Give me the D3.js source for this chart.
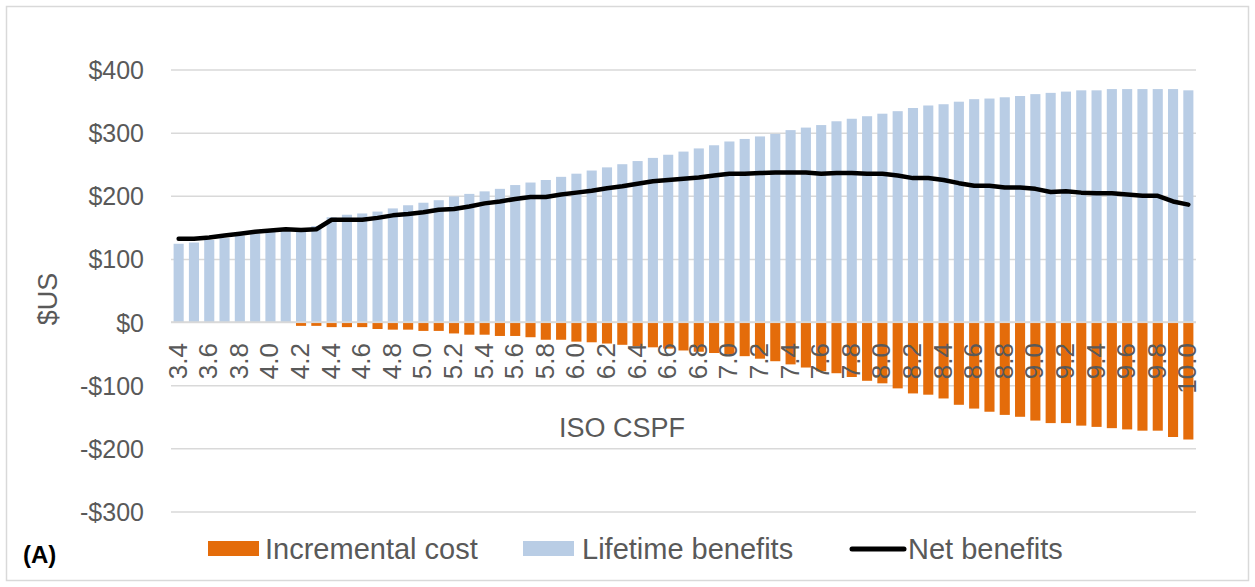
<!DOCTYPE html>
<html>
<head>
<meta charset="utf-8">
<script src="https://cdn.jsdelivr.net/npm/d3@7"></script>
<style>
  html, body { margin: 0; padding: 0; background: #fff; }
  svg { display: block; font-family: "Liberation Sans", Arial, sans-serif; }
</style>
</head>
<body>
<svg id="chart" width="1255" height="587"></svg>
<script>
const categories = ["3.4","3.5","3.6","3.7","3.8","3.9",
  "4.0","4.1","4.2","4.3","4.4","4.5","4.6","4.7","4.8","4.9",
  "5.0","5.1","5.2","5.3","5.4","5.5","5.6","5.7","5.8","5.9",
  "6.0","6.1","6.2","6.3","6.4","6.5","6.6","6.7","6.8","6.9",
  "7.0","7.1","7.2","7.3","7.4","7.5","7.6","7.7","7.8","7.9",
  "8.0","8.1","8.2","8.3","8.4","8.5","8.6","8.7","8.8","8.9",
  "9.0","9.1","9.2","9.3","9.4","9.5","9.6","9.7","9.8","9.9",
  "10.0"];

const lifetimeBenefits = [124,126,130,133,137,140,
  143,146,148,152,166,170,172,175,180,185,
  189,193,199,203,207,211,217,221,225,230,
  235,240,245,250,255,260,265,270,275,280,
  286,290,294,298,304,308,312,318,322,326,
  330,334,339,343,345,349,353,354,356,358,
  361,363,365,367,367,369,369,369,369,369,
  367];

const incrementalCost = [0,0,0,0,0,0,
  0,0,-6,-6,-8,-8,-8,-11,-12,-12,
  -14,-14,-18,-20,-20,-22,-22,-24,-28,-28,
  -31,-32,-34,-36,-38,-40,-42,-45,-47,-49,
  -51,-54,-58,-62,-67,-72,-78,-81,-87,-93,
  -97,-105,-113,-115,-121,-131,-137,-142,-147,-150,
  -156,-160,-160,-164,-166,-168,-170,-172,-172,-182,
  -186];

const netBenefits = [132,132,134,137,140,143,
  145,147,146,147,162,162,162,165,169,171,
  174,178,179,183,188,191,195,198,198,202,
  205,208,212,215,219,223,225,227,229,232,
  235,235,236,237,237,237,235,236,236,235,
  235,232,228,228,225,220,216,216,213,213,
  211,206,207,205,204,204,202,200,200,191,
  186];

const xTickLabels = ["3.4","3.6","3.8","4.0","4.2","4.4","4.6","4.8","5.0","5.2",
  "5.4","5.6","5.8","6.0","6.2","6.4","6.6","6.8","7.0","7.2","7.4","7.6","7.8",
  "8.0","8.2","8.4","8.6","8.8","9.0","9.2","9.4","9.6","9.8","10.0"];
const yTicks = [-300,-200,-100,0,100,200,300,400];

const seriesNames = ["Incremental cost","Lifetime benefits","Net benefits"];
const xTitle = "ISO CSPF";
const yTitle = "$US";
const panelLabel = "(A)";

(function draw() {
const COL_COST = "#E46C0A", COL_BEN = "#B9CDE5", COL_NET = "#000000";
const COL_GRID = "#D9D9D9", COL_TEXT = "#595959";

const svg = d3.select("#chart");

svg.append("rect").attr("x", 6.5).attr("y", 6.5).attr("width", 1242).attr("height", 574)
  .attr("fill", "#fff").attr("stroke", "#D9D9D9").attr("stroke-width", 1.5);

const pL = 171, pR = 1196, pT = 69.5, pB = 511.5;

const x = d3.scaleBand().domain(categories).range([pL, pR])
  .paddingInner(0.34).paddingOuter(0.17);
const y = d3.scaleLinear().domain([-300, 400]).range([pB, pT]);

const fmt = v => (v < 0 ? "-$" : "$") + Math.abs(v);

const grid = svg.append("g").attr("transform", `translate(${pL},0)`)
  .call(d3.axisLeft(y).tickValues(yTicks).tickSize(-(pR - pL)).tickFormat(""));
grid.select(".domain").remove();
grid.selectAll(".tick line").attr("stroke", COL_GRID).attr("stroke-width", 1.5);

const yAxis = svg.append("g").attr("transform", `translate(${pL},0)`)
  .call(d3.axisLeft(y).tickValues(yTicks).tickSize(0).tickPadding(27).tickFormat(fmt));
yAxis.select(".domain").remove();
yAxis.selectAll("text").attr("fill", COL_TEXT).attr("font-size", 25)
  .attr("font-family", "Liberation Sans, Arial, sans-serif").attr("dy", "0.36em");

const bw = x.bandwidth();
svg.append("g").selectAll("rect").data(categories).join("rect")
  .attr("x", d => x(d)).attr("width", bw)
  .attr("y", (d, i) => y(lifetimeBenefits[i]))
  .attr("height", (d, i) => y(0) - y(lifetimeBenefits[i]))
  .attr("fill", COL_BEN);

svg.append("g").selectAll("rect").data(categories).join("rect")
  .attr("x", d => x(d)).attr("width", bw)
  .attr("y", y(0) + 1)
  .attr("height", (d, i) => Math.max(0, y(incrementalCost[i]) - y(0) - 1))
  .attr("fill", COL_COST);

svg.append("line").attr("x1", pL).attr("x2", pR).attr("y1", y(0)).attr("y2", y(0))
  .attr("stroke", COL_GRID).attr("stroke-width", 1.5);

const line = d3.line().x((d, i) => x(categories[i]) + bw / 2).y(d => y(d));
svg.append("path").datum(netBenefits).attr("d", line)
  .attr("fill", "none").attr("stroke", COL_NET).attr("stroke-width", 4.5)
  .attr("stroke-linejoin", "round").attr("stroke-linecap", "round");

const xAxis = svg.append("g").attr("transform", `translate(0,${y(0)})`)
  .call(d3.axisBottom(x).tickValues(xTickLabels).tickSize(0));
xAxis.select(".domain").remove();
xAxis.selectAll("text")
  .attr("fill", COL_TEXT).attr("font-size", 26)
  .attr("font-family", "Liberation Sans, Arial, sans-serif")
  .attr("transform", "rotate(-90)")
  .attr("text-anchor", "end")
  .attr("x", -21).attr("y", 8).attr("dy", null);

svg.append("text").attr("x", 622).attr("y", 437).attr("text-anchor", "middle")
  .attr("font-size", 27).attr("fill", COL_TEXT).text(xTitle);
svg.append("text").attr("transform", "translate(57,299) rotate(-90)")
  .attr("text-anchor", "middle").attr("font-size", 27).attr("fill", COL_TEXT).text(yTitle);

svg.append("text").attr("x", 23).attr("y", 563).attr("font-size", 24)
  .attr("font-weight", "bold").attr("fill", "#000").text(panelLabel);

const lg = svg.append("g");
const legendItems = [
  {name: seriesNames[0], type: "rect", color: COL_COST, x: 208, tx: 265},
  {name: seriesNames[1], type: "rect", color: COL_BEN, x: 523, tx: 582},
  {name: seriesNames[2], type: "line", color: COL_NET, x: 852, tx: 908}
];
legendItems.forEach(it => {
  if (it.type === "rect") {
    lg.append("rect").attr("x", it.x).attr("y", 541).attr("width", 51).attr("height", 15).attr("fill", it.color);
  } else {
    lg.append("line").attr("x1", it.x).attr("x2", it.x + 52).attr("y1", 549).attr("y2", 549)
      .attr("stroke", it.color).attr("stroke-width", 5).attr("stroke-linecap", "round");
  }
  lg.append("text").attr("x", it.tx).attr("y", 558.5).attr("font-size", 29)
    .attr("fill", COL_TEXT).text(it.name);
});
})();
</script>
</body>
</html>
